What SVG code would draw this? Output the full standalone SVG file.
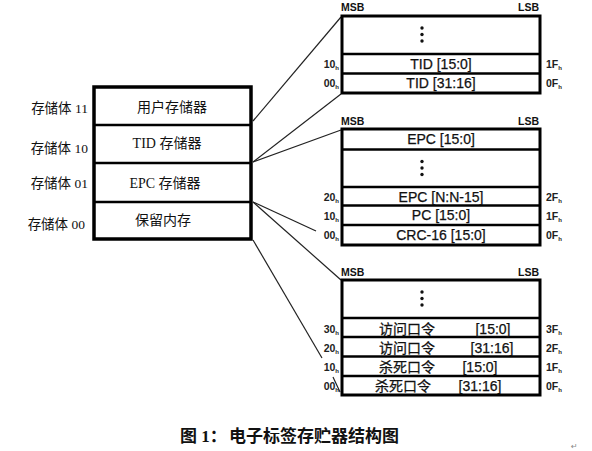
<svg xmlns="http://www.w3.org/2000/svg" width="592" height="451" viewBox="0 0 592 451">
<style>
.box{fill:#fff;stroke:#000;stroke-width:3}
.dv{stroke:#000;stroke-width:2.5}
.cn{stroke:#222;stroke-width:1.2;fill:none}
.lt{font-family:"Liberation Serif","Noto Sans CJK SC",serif;font-size:13.5px;fill:#111}
.mt{font-family:"Liberation Serif","Noto Sans CJK SC",serif;font-size:14px;fill:#111;text-anchor:middle}
.rt{font-family:"Liberation Sans","Noto Sans CJK SC",sans-serif;font-size:14px;fill:#111;stroke:#111;stroke-width:0.25;text-anchor:middle}
.ad{font-family:"Liberation Sans",sans-serif;font-size:10.5px;font-weight:bold;fill:#222}
.sb{font-size:6px}
.hd{font-family:"Liberation Sans",sans-serif;font-size:10.5px;font-weight:bold;fill:#111}
.dot{fill:#111}
.cap{font-family:"Liberation Serif","Noto Sans CJK SC",serif;font-size:17px;font-weight:bold;fill:#111}
</style>

<g id="connectors">
<line class="cn" x1="253" y1="121" x2="341" y2="17"/>
<line class="cn" x1="253" y1="162" x2="341" y2="94"/>
<line class="cn" x1="253" y1="162" x2="341" y2="130"/>
<line class="cn" x1="253" y1="202" x2="316" y2="231"/>
<line class="cn" x1="253" y1="202" x2="341" y2="280"/>
<line class="cn" x1="253" y1="240" x2="322" y2="358"/>
<line class="cn" x1="333" y1="377" x2="340" y2="392"/>
</g>

<g id="memory-banks">
<rect class="box" x="94" y="87" width="157" height="152" style="stroke-width:3.5"/>
<line class="dv" x1="94" y1="125" x2="251" y2="125"/>
<line class="dv" x1="94" y1="163" x2="251" y2="163"/>
<line class="dv" x1="94" y1="202" x2="251" y2="202"/>
<text class="mt" x="172" y="112">用户存储器</text>
<text class="mt" x="167" y="148">TID 存储器</text>
<text class="mt" x="165" y="188">EPC 存储器</text>
<text class="mt" x="163" y="225">保留内存</text>
<text class="lt" x="88" y="113" text-anchor="end">存储体 11</text>
<text class="lt" x="88" y="153" text-anchor="end">存储体 10</text>
<text class="lt" x="88" y="188" text-anchor="end">存储体 01</text>
<text class="lt" x="85" y="229" text-anchor="end">存储体 00</text>
</g>

<g id="tid-memory">
<text class="hd" x="341" y="11">MSB</text>
<text class="hd" x="539" y="11" text-anchor="end">LSB</text>
<rect class="box" x="342" y="16" width="198" height="77"/>
<line class="dv" x1="342" y1="54" x2="540" y2="54"/>
<line class="dv" x1="342" y1="73.5" x2="540" y2="73.5"/>
<circle class="dot" cx="422" cy="28" r="1.7"/>
<circle class="dot" cx="422" cy="34.5" r="1.7"/>
<circle class="dot" cx="422" cy="41" r="1.7"/>
<text class="rt" x="441" y="69">TID [15:0]</text>
<text class="rt" x="441" y="88">TID [31:16]</text>
<text class="ad" x="339" y="68" text-anchor="end">10<tspan class="sb" dy="2">h</tspan></text>
<text class="ad" x="339" y="87" text-anchor="end">00<tspan class="sb" dy="2">h</tspan></text>
<text class="ad" x="546" y="68">1F<tspan class="sb" dy="2">h</tspan></text>
<text class="ad" x="546" y="87">0F<tspan class="sb" dy="2">h</tspan></text>
</g>

<g id="epc-memory">
<text class="hd" x="341" y="125">MSB</text>
<text class="hd" x="539" y="125" text-anchor="end">LSB</text>
<rect class="box" x="342" y="129" width="198" height="116"/>
<line class="dv" x1="342" y1="149.5" x2="540" y2="149.5"/>
<line class="dv" x1="342" y1="187" x2="540" y2="187"/>
<line class="dv" x1="342" y1="205.5" x2="540" y2="205.5"/>
<line class="dv" x1="342" y1="225" x2="540" y2="225"/>
<circle class="dot" cx="422" cy="161.5" r="1.7"/>
<circle class="dot" cx="422" cy="168" r="1.7"/>
<circle class="dot" cx="422" cy="174.5" r="1.7"/>
<text class="rt" x="441" y="143.5">EPC [15:0]</text>
<text class="rt" x="441" y="201.5">EPC [N:N-15]</text>
<text class="rt" x="441" y="220">PC [15:0]</text>
<text class="rt" x="441" y="239.5">CRC-16 [15:0]</text>
<text class="ad" x="339" y="201" text-anchor="end">20<tspan class="sb" dy="2">h</tspan></text>
<text class="ad" x="339" y="219.5" text-anchor="end">10<tspan class="sb" dy="2">h</tspan></text>
<text class="ad" x="339" y="238.5" text-anchor="end">00<tspan class="sb" dy="2">h</tspan></text>
<text class="ad" x="546" y="201">2F<tspan class="sb" dy="2">h</tspan></text>
<text class="ad" x="546" y="219.5">1F<tspan class="sb" dy="2">h</tspan></text>
<text class="ad" x="546" y="238.5">0F<tspan class="sb" dy="2">h</tspan></text>
</g>

<g id="reserved-memory">
<text class="hd" x="341" y="276">MSB</text>
<text class="hd" x="539" y="276" text-anchor="end">LSB</text>
<rect class="box" x="342" y="280" width="198" height="115"/>
<line class="dv" x1="342" y1="318" x2="540" y2="318"/>
<line class="dv" x1="342" y1="337" x2="540" y2="337"/>
<line class="dv" x1="342" y1="356.5" x2="540" y2="356.5"/>
<line class="dv" x1="342" y1="376" x2="540" y2="376"/>
<circle class="dot" cx="422" cy="292" r="1.7"/>
<circle class="dot" cx="422" cy="298.5" r="1.7"/>
<circle class="dot" cx="422" cy="305" r="1.7"/>
<text class="rt" x="407" y="333.5">访问口令</text>
<text class="rt" x="493" y="333.5">[15:0]</text>
<text class="rt" x="407" y="352.5">访问口令</text>
<text class="rt" x="492" y="352.5">[31:16]</text>
<text class="rt" x="407" y="371.5">杀死口令</text>
<text class="rt" x="480" y="371.5">[15:0]</text>
<text class="rt" x="403" y="390.5">杀死口令</text>
<text class="rt" x="480" y="390.5">[31:16]</text>
<text class="ad" x="339" y="333" text-anchor="end">30<tspan class="sb" dy="2">h</tspan></text>
<text class="ad" x="339" y="352" text-anchor="end">20<tspan class="sb" dy="2">h</tspan></text>
<text class="ad" x="339" y="371" text-anchor="end">10<tspan class="sb" dy="2">h</tspan></text>
<text class="ad" x="339" y="390" text-anchor="end">00<tspan class="sb" dy="2">h</tspan></text>
<text class="ad" x="546" y="333">3F<tspan class="sb" dy="2">h</tspan></text>
<text class="ad" x="546" y="352">2F<tspan class="sb" dy="2">h</tspan></text>
<text class="ad" x="546" y="371">1F<tspan class="sb" dy="2">h</tspan></text>
<text class="ad" x="546" y="390">0F<tspan class="sb" dy="2">h</tspan></text>
</g>

<g id="caption">
<text class="cap" y="442"><tspan x="180">图 1：</tspan><tspan x="229">电子标签存贮器结构图</tspan></text>
<text x="571" y="449" style="font-family:'DejaVu Sans',sans-serif;font-size:8px;fill:#888">↵</text>
</g>
</svg>
